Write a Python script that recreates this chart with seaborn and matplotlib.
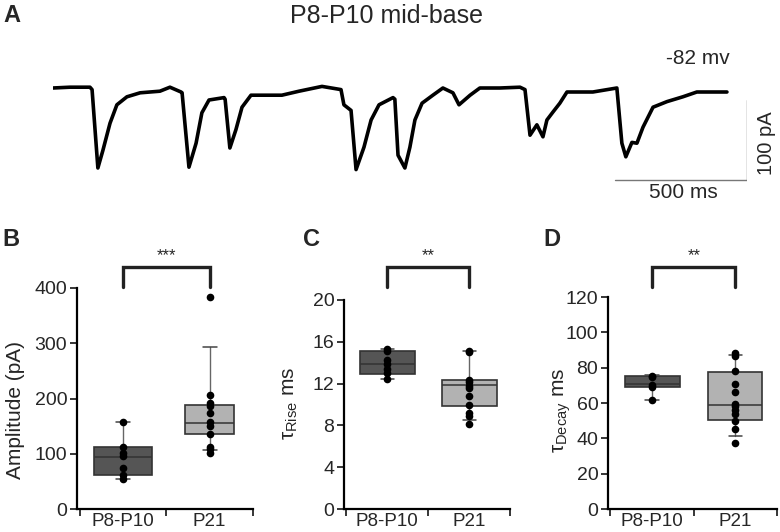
import numpy as np
import pandas as pd
import seaborn as sns
import matplotlib
matplotlib.use("Agg")
import matplotlib.pyplot as plt
import matplotlib.transforms as mtransforms

# ---- data ----
# example trace (ms, pA), baseline = 0
trace_t = [0, 64, 140, 148, 170, 189, 216, 242, 280, 330, 405, 443, 485, 489, 515, 542, 564,
           591, 648, 652, 670, 693, 716, 750, 867, 932, 1019, 1091, 1102, 1129, 1148, 1178,
           1205, 1235, 1288, 1295, 1307, 1333, 1352, 1371, 1398, 1439, 1477, 1515, 1538, 1580,
           1617, 1693, 1769, 1788, 1807, 1833, 1856, 1871, 1894, 1920, 1947, 2045, 2136, 2155,
           2170, 2193, 2212, 2235, 2273, 2326, 2386, 2439, 2553]
trace_i = [0, 1, 1, -2, -100, -78, -44, -21, -11, -6, -4, 1, -5, -6, -99, -69, -31,
           -15, -12, -14, -75, -52, -24, -9, -9, -4, 2, -2, -21, -28, -102, -74,
           -40, -21, -12, -14, -84, -100, -74, -40, -19, -9, 0, -6, -21, -9,
           0, 0, 1, -2, -59, -46, -61, -40, -30, -19, -5, -5, 0, -69,
           -86, -68, -69, -49, -24, -17, -11, -5, -5]

groups = ["P8-P10", "P21"]

amp_p8 = [157, 113, 102, 96, 74, 61, 54]
amp_p21 = [383, 206, 192, 187, 173, 157, 151, 135, 113, 108, 102]
rise_p8 = [15.3, 15.1, 14.3, 13.85, 13.4, 13.0, 12.4]
rise_p21 = [15.16, 15.0, 12.36, 12.13, 11.8, 11.6, 10.8, 10.0, 9.2, 8.9, 8.15]
decay_p8 = [75.5, 74.7, 70.4, 69.2, 61.5]
decay_p21 = [88.1, 86.8, 77.9, 70.75, 66.4, 59.4, 58.1, 56.0, 54.0, 50.0, 45.3, 37.4]

# box stats: q1, median, q3, whisker low, whisker high
amp_box = [(61, 94, 112, 54, 157), (135, 156, 188, 107, 294)]
rise_box = [(12.96, 13.85, 15.16, 12.4, 15.3), (9.84, 11.85, 12.32, 8.5, 15.1)]
decay_box = [(69.2, 70.75, 75.5, 61.5, 75.8), (50.2, 58.7, 77.5, 41.3, 87.2)]

sns.set_style("ticks")
plt.rcParams["font.family"] = ["Liberation Sans", "DejaVu Sans"]
plt.rcParams["mathtext.fontset"] = "custom"
plt.rcParams["mathtext.rm"] = "Liberation Sans"
plt.rcParams["mathtext.it"] = "Liberation Sans:italic"

W, H = 780, 532
fig = plt.figure(figsize=(7.8, 5.32), dpi=100)


def rect(l, t, r, b):
    return [l / W, 1 - b / H, (r - l) / W, (b - t) / H]


# ---- panel A: trace ----
axA = fig.add_axes(rect(53, 80, 747, 200))
sns.lineplot(x=trace_t, y=trace_i, ax=axA, color="black", lw=2.6)
axA.plot([2129, 2629], [-115, -115], color="#777777", lw=1)
axA.plot([2629, 2629], [-115, -15], color="#777777", lw=1)
axA.set_xlim(0, 2629)
axA.set_ylim(-140, 10)
axA.axis("off")

fig.text(386 / W, 1 - 16 / H, "P8-P10 mid-base", fontsize=18, ha="center", va="center")
fig.text(698 / W, 1 - 58 / H, "-82 mv", fontsize=15, ha="center", va="center")
fig.text(683 / W, 1 - 193 / H, "500 ms", fontsize=15, ha="center", va="center")
fig.text(767 / W, 1 - 143 / H, "100 pA", fontsize=14.5, ha="center", va="center", rotation=90)

# ---- box panels ----
panels = [
    ("B", rect(77, 288, 253, 509), amp_p8, amp_p21, amp_box, [0.66, 0.56],
     [0, 100, 200, 300, 400], (0, 400), "Amplitude (pA)", "***", (-0.347, 0.448), 2),
    ("C", rect(344, 300, 510, 509), rise_p8, rise_p21, rise_box, [0.67, 0.67],
     [0, 4, 8, 12, 16, 20], (0, 20), r"$\mathregular{\tau_{Rise}}$ ms", "**", (-0.325, 0.507), 303),
    ("D", rect(608, 297, 777, 509), decay_p8, decay_p21, decay_box, [0.66, 0.65],
     [0, 20, 40, 60, 80, 100, 120], (0, 120), r"$\mathregular{\tau_{Decay}}$ ms", "**", (-0.272, 0.467), 543),
]

fills = ["#555555", "#b2b2b2"]

for letter, pos, v8, v21, box, widths, yticks, ylim, ylabel, stars, lab_xy, letter_x in panels:
    ax = fig.add_axes(pos)
    stats = []
    for g, (q1, med, q3, lo, hi) in zip(groups, box):
        stats.append(dict(label=g, q1=q1, med=med, q3=q3, whislo=lo, whishi=hi, fliers=[]))
    bp = ax.bxp(stats, positions=[0, 1], widths=widths, patch_artist=True, showfliers=False,
                boxprops=dict(edgecolor="#333333", lw=1.2),
                medianprops=dict(color="#333333", lw=1.1),
                whiskerprops=dict(color="#666666", lw=1),
                capprops=dict(color="#444444", lw=1.1), capwidths=0.16, manage_ticks=False)
    for patch, c in zip(bp["boxes"], fills):
        patch.set_facecolor(c)

    df = pd.DataFrame({"group": ["P8-P10"] * len(v8) + ["P21"] * len(v21),
                       "value": list(v8) + list(v21)})
    sns.stripplot(data=df, x="group", y="value", order=groups, jitter=False,
                  color="black", size=5.5, ax=ax, zorder=4)

    ax.set_xlim(-0.53, 1.5)
    ax.set_ylim(*ylim)
    ax.set_yticks(yticks)
    ax.set_xticks([0, 1])
    ax.set_xticklabels(groups)
    ax.set_xticks([-0.5, 0.5, 1.5], minor=True)
    ax.tick_params(axis="x", which="major", length=0, labelsize=13.5, pad=3)
    ax.tick_params(axis="x", which="minor", length=5, width=1.3, direction="out")
    ax.tick_params(axis="y", length=5, width=1.3, labelsize=14, pad=2)
    ax.set_xlabel("")
    ax.set_ylabel(ylabel, fontsize=15, va="center", ha="center")
    ax.yaxis.set_label_coords(*lab_xy)
    for s in ["top", "right"]:
        ax.spines[s].set_visible(False)
    for s in ["left", "bottom"]:
        ax.spines[s].set_linewidth(1.6)
        ax.spines[s].set_color("black")

    # significance bracket
    tr = mtransforms.blended_transform_factory(ax.transData, fig.transFigure)
    y_top = 1 - 267 / H
    y_bot = 1 - 287 / H
    ax.plot([0, 0, 1, 1], [y_bot, y_top, y_top, y_bot], color="#222222", lw=2.4,
            transform=tr, clip_on=False, solid_joinstyle="miter")
    ax.text(0.5, 1 - 256 / H, stars, transform=tr, ha="center", va="center", fontsize=12)

    fig.text(letter_x / W, 1 - 239 / H, letter, fontsize=17, fontweight="bold", ha="left", va="center")

fig.text(3 / W, 1 - 16 / H, "A", fontsize=17, fontweight="bold", ha="left", va="center")

fig.savefig("out.png", dpi=100)
